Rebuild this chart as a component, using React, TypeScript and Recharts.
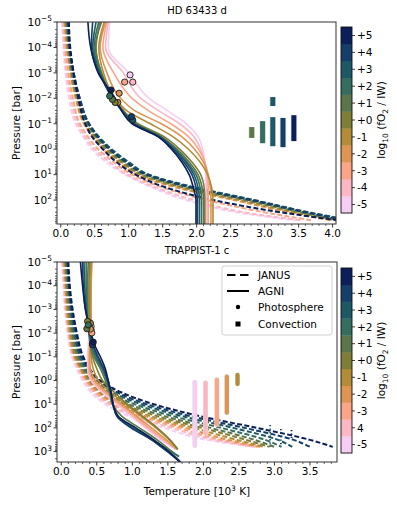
import React from 'react';
import { ComposedChart, Line, Scatter, XAxis, YAxis } from 'recharts';

const FONT = '"DejaVu Sans", Verdana, sans-serif';

// log10(fO2 / IW) categories, from -5 to +5
const FO2_COLORS = ['#f6cdf3', '#fbb8c4', '#f9a586', '#de9453', '#b28c36', '#807e36', '#5b774a', '#356d5f', '#1c5965', '#153f68', '#0b1f5b'];
const CBAR_LABELS_TOP = ['-5', '-4', '-3', '-2', '-1', '+0', '+1', '+2', '+3', '+4', '+5'];
const CBAR_LABELS_BOTTOM = ['-5', '4', '-3', '-2', '-1', '+0', '+1', '+2', '+3', '+4', '+5'];

// ---------------- HD 63433 d (top panel) ----------------
const TOP_DASH_P = [1e-5, 1e-4, 1e-3, 1e-2, 0.1, 0.32, 1, 3.2, 10, 32, 100, 320, 630];
const topDashM5 = [0.02, 0.04, 0.07, 0.12, 0.22, 0.33, 0.46, 0.67, 0.95, 1.35, 1.85, 2.65, 3.45];
const topDashM4 = [0.03, 0.05, 0.09, 0.15, 0.25, 0.36, 0.5, 0.72, 0.98, 1.4, 1.95, 2.75, 3.55];
const topDashM3 = [0.05, 0.07, 0.11, 0.18, 0.28, 0.4, 0.55, 0.78, 1.05, 1.5, 2.15, 3.05, 3.7];
const topDashM2 = [0.06, 0.09, 0.14, 0.22, 0.34, 0.47, 0.62, 0.85, 1.12, 1.7, 2.55, 3.4, 3.98];
const topDashM1 = [0.07, 0.1, 0.15, 0.23, 0.36, 0.49, 0.65, 0.88, 1.16, 1.76, 2.62, 3.48, 4.05];
const topDashZ0 = [0.08, 0.11, 0.16, 0.25, 0.38, 0.51, 0.68, 0.91, 1.2, 1.82, 2.7, 3.55, 4.1];
const topDashP1 = [0.09, 0.12, 0.17, 0.26, 0.4, 0.53, 0.71, 0.94, 1.24, 1.88, 2.76, 3.6, 4.15];
const topDashP2 = [0.1, 0.13, 0.18, 0.27, 0.41, 0.55, 0.73, 0.98, 1.28, 1.95, 2.82, 3.67, 4.25];
const topDashP3 = [0.11, 0.13, 0.19, 0.28, 0.42, 0.56, 0.75, 1.0, 1.3, 1.98, 2.85, 3.7, 4.3];
const topDashP4 = [0.11, 0.13, 0.19, 0.28, 0.41, 0.54, 0.72, 0.96, 1.26, 1.92, 2.8, 3.65, 4.2];
const topDashP5 = [0.12, 0.14, 0.19, 0.26, 0.36, 0.46, 0.62, 0.82, 1.1, 1.55, 2.25, 3.3, 4.1];

const TOP_SOLID_P = [1e-5, 1e-4, 1e-3, 1e-2, 0.032, 0.1, 0.32, 1, 3.2, 10, 32, 100, 870];
const topSolidM5 = [0.72, 0.7, 1.0, 1.3, 1.58, 1.85, 2.02, 2.09, 2.12, 2.13, 2.13, 2.13, 2.13];
const topSolidM4 = [0.7, 0.66, 0.92, 1.18, 1.45, 1.75, 1.96, 2.06, 2.12, 2.15, 2.15, 2.15, 2.15];
const topSolidM3 = [0.68, 0.62, 0.78, 1.05, 1.3, 1.62, 1.88, 2.03, 2.12, 2.16, 2.17, 2.17, 2.17];
const topSolidM2 = [0.66, 0.58, 0.68, 0.88, 1.1, 1.48, 1.78, 1.97, 2.1, 2.17, 2.2, 2.21, 2.21];
const topSolidM1 = [0.64, 0.56, 0.63, 0.8, 0.98, 1.32, 1.65, 1.88, 2.05, 2.16, 2.22, 2.24, 2.24];
const topSolidZ0 = [0.58, 0.52, 0.6, 0.78, 0.93, 1.14, 1.52, 1.75, 1.93, 2.06, 2.11, 2.12, 2.12];
const topSolidP1 = [0.6, 0.51, 0.6, 0.77, 0.92, 1.1, 1.48, 1.71, 1.89, 2.02, 2.08, 2.1, 2.1];
const topSolidP2 = [0.56, 0.49, 0.58, 0.76, 0.91, 1.09, 1.47, 1.69, 1.86, 1.99, 2.05, 2.07, 2.07];
const topSolidP3 = [0.52, 0.47, 0.57, 0.77, 0.91, 1.08, 1.45, 1.67, 1.84, 1.96, 2.02, 2.04, 2.04];
const topSolidP4 = [0.47, 0.45, 0.56, 0.78, 0.9, 1.06, 1.44, 1.65, 1.81, 1.93, 1.99, 2.01, 2.01];
const topSolidP5 = [0.4, 0.44, 0.55, 0.8, 0.9, 1.05, 1.43, 1.63, 1.78, 1.89, 1.95, 1.99, 1.99];

const PHOTO_TOP_T = [1.02, 1.06, 0.94, 0.86, 0.84, 0.8, 0.76, 0.72, 1.06, 1.04, 0.74];
const PHOTO_TOP_P = [0.0012, 0.0023, 0.0023, 0.0063, 0.0145, 0.0145, 0.011, 0.0081, 0.071, 0.052, 0.0047];
const PHOTO_TOP_IDX = [0, 1, 2, 3, 4, 5, 6, 7, 8, 9, 10];

const CONV_TOP_T = [2.81, 2.97, 3.12, 3.12, 3.27, 3.43];
const CONV_TOP_LO = [0.135, 0.079, 0.055, 0.0089, 0.059, 0.046];
const CONV_TOP_HI = [0.36, 0.58, 0.76, 0.02, 0.83, 0.48];
const CONV_TOP_IDX = [6, 7, 8, 8, 9, 10];

// ---------------- TRAPPIST-1 c (bottom panel) ----------------
const BOT_DASH_P = [1e-5, 1e-4, 1e-3, 1e-2, 0.1, 0.32, 1, 3.2, 10, 32, 100, 320, 630];
const botDashM5 = [0.01, 0.03, 0.05, 0.09, 0.15, 0.22, 0.3, 0.42, 0.62, 0.95, 1.45, 2.05, 2.7];
const botDashM4 = [0.02, 0.04, 0.06, 0.1, 0.17, 0.24, 0.33, 0.46, 0.67, 1.02, 1.55, 2.15, 2.72];
const botDashM3 = [0.03, 0.05, 0.07, 0.11, 0.18, 0.26, 0.35, 0.49, 0.72, 1.1, 1.65, 2.25, 2.76];
const botDashM2 = [0.04, 0.06, 0.08, 0.12, 0.19, 0.27, 0.37, 0.52, 0.77, 1.18, 1.75, 2.35, 2.8];
const botDashM1 = [0.05, 0.07, 0.09, 0.13, 0.2, 0.28, 0.39, 0.55, 0.82, 1.26, 1.86, 2.47, 2.86];
const botDashZ0 = [0.06, 0.08, 0.1, 0.15, 0.22, 0.3, 0.41, 0.59, 0.88, 1.35, 1.98, 2.6, 2.93];
const botDashP1 = [0.07, 0.09, 0.12, 0.16, 0.24, 0.32, 0.44, 0.63, 0.95, 1.45, 2.1, 2.72, 3.0];
const botDashP2 = [0.08, 0.1, 0.13, 0.18, 0.26, 0.34, 0.47, 0.68, 1.03, 1.57, 2.25, 2.87, 3.1];
const botDashP3 = [0.09, 0.11, 0.14, 0.19, 0.27, 0.36, 0.5, 0.73, 1.12, 1.7, 2.42, 3.05, 3.25];
const botDashP4 = [0.09, 0.11, 0.15, 0.21, 0.29, 0.38, 0.52, 0.79, 1.2, 1.82, 2.58, 3.27, 3.5];
const botDashP5 = [0.1, 0.12, 0.16, 0.22, 0.31, 0.4, 0.55, 0.85, 1.3, 1.95, 2.75, 3.5, 3.82];

const BOT_SOLID_P = [1e-5, 1e-4, 1e-3, 1e-2, 0.032, 0.1, 0.32, 1, 3.2, 10, 32, 100, 320, 800, 1600, 2750];
const botSolidM5 = [0.41, 0.4, 0.39, 0.39, 0.38, 0.37, 0.37, 0.42, 0.58, 0.78, 0.98, 1.18, 1.4, 1.6, null, null];
const botSolidM4 = [0.42, 0.41, 0.4, 0.4, 0.39, 0.38, 0.38, 0.43, 0.6, 0.8, 1.0, 1.2, 1.42, 1.62, null, null];
const botSolidM3 = [0.43, 0.42, 0.41, 0.41, 0.4, 0.39, 0.39, 0.45, 0.62, 0.82, 1.03, 1.23, 1.45, 1.63, null, null];
const botSolidM2 = [0.43, 0.42, 0.42, 0.42, 0.41, 0.4, 0.41, 0.48, 0.65, 0.85, 1.06, 1.27, 1.48, 1.63, null, null];
const botSolidM1 = [0.42, 0.41, 0.41, 0.41, 0.41, 0.42, 0.45, 0.52, 0.7, 0.9, 1.12, 1.33, 1.52, 1.64, null, null];
const botSolidZ0 = [0.4, 0.39, 0.39, 0.4, 0.41, 0.44, 0.5, 0.58, 0.75, 0.93, 1.14, 1.35, 1.53, 1.64, null, null];
const botSolidP1 = [0.38, 0.37, 0.37, 0.39, 0.41, 0.46, 0.55, 0.62, 0.68, 0.72, 0.85, 1.1, 1.35, 1.52, 1.65, null];
const botSolidP2 = [0.35, 0.35, 0.36, 0.39, 0.42, 0.48, 0.57, 0.64, 0.69, 0.72, 0.8, 1.02, 1.3, 1.48, 1.66, null];
const botSolidP3 = [0.32, 0.33, 0.35, 0.4, 0.44, 0.5, 0.59, 0.65, 0.7, 0.73, 0.79, 1.0, 1.28, 1.46, 1.6, 1.68];
const botSolidP4 = [0.3, 0.31, 0.34, 0.41, 0.45, 0.52, 0.6, 0.66, 0.7, 0.73, 0.78, 0.98, 1.27, 1.45, 1.58, 1.67];
const botSolidP5 = [0.27, 0.3, 0.34, 0.42, 0.47, 0.55, 0.62, 0.66, 0.7, 0.73, 0.8, 1.05, 1.3, 1.48, 1.58, 1.67];

const PHOTO_BOT_T = [0.42, 0.42, 0.43, 0.41, 0.41, 0.37, 0.36, 0.38, 0.44, 0.44, 0.45];
const PHOTO_BOT_P = [0.0052, 0.0072, 0.0098, 0.0068, 0.0038, 0.0032, 0.0066, 0.0045, 0.028, 0.031, 0.024];
const PHOTO_BOT_IDX = [0, 1, 2, 3, 4, 5, 6, 7, 8, 9, 10];

const CONV_BOT_T = [1.88, 2.03, 2.19, 2.33, 2.48];
const CONV_BOT_LO = [1.2, 1.25, 0.93, 0.69, 0.58];
const CONV_BOT_HI = [560, 174, 72, 23, 1.4];
const CONV_BOT_IDX = [0, 1, 2, 3, 4];

const DOT_BOT_T = [2.94, 3.09, 3.24];
const DOT_BOT_LO = [76, 112, 123];
const DOT_BOT_HI = [620, 490, 270];
const DOT_BOT_IDX = [8, 9, 10];

const TOP_DASH = [topDashM5, topDashM4, topDashM3, topDashM2, topDashM1, topDashZ0, topDashP1, topDashP2, topDashP3, topDashP4, topDashP5];
const TOP_SOLID = [topSolidM5, topSolidM4, topSolidM3, topSolidM2, topSolidM1, topSolidZ0, topSolidP1, topSolidP2, topSolidP3, topSolidP4, topSolidP5];
const BOT_DASH = [botDashM5, botDashM4, botDashM3, botDashM2, botDashM1, botDashZ0, botDashP1, botDashP2, botDashP3, botDashP4, botDashP5];
const BOT_SOLID = [botSolidM5, botSolidM4, botSolidM3, botSolidM2, botSolidM1, botSolidZ0, botSolidP1, botSolidP2, botSolidP3, botSolidP4, botSolidP5];

// axis ticks
const X_TICKS_TOP: number[] = [];
for (let i = 0; i <= 40; i++) X_TICKS_TOP.push(i / 10);
const X_TICKS_BOT: number[] = [];
for (let i = 0; i <= 38; i++) X_TICKS_BOT.push(i / 10);
const makeLogTicks = (maxV: number) => {
  const out: number[] = [];
  for (let d = -5; d <= 3; d++) {
    for (let k = 1; k <= 9; k++) {
      const v = k * Math.pow(10, d);
      if (v <= maxV) out.push(v);
    }
  }
  return out;
};
const Y_TICKS_TOP = makeLogTicks(870);
const Y_TICKS_BOT = makeLogTicks(2750);

const profile = (ps: number[], ts: (number | null)[]) =>
  ps.map((p, i) => ({ P: p, T: ts[i] })).filter((d) => d.T !== null);

const XTick = (props: any) => {
  const { x, y, payload } = props;
  const v = payload.value as number;
  const major = Math.abs(v * 2 - Math.round(v * 2)) < 1e-6;
  return (
    <g>
      <line x1={x} x2={x} y1={y} y2={y + (major ? 3.5 : 2)} stroke="#222" strokeWidth={major ? 0.9 : 0.7} />
      {major && (
        <text x={x} y={y + 12.5} textAnchor="middle" fontSize={10.5} fontFamily={FONT} fill="#000">
          {v.toFixed(1)}
        </text>
      )}
    </g>
  );
};

const YTick = (props: any) => {
  const { x, y, payload } = props;
  const v = payload.value as number;
  const lg = Math.log10(v);
  const e = Math.round(lg);
  const major = Math.abs(lg - e) < 1e-6;
  return (
    <g>
      <line x1={x} x2={x - (major ? 3.5 : 2)} y1={y} y2={y} stroke="#222" strokeWidth={major ? 0.9 : 0.7} />
      {major && (
        <text x={x - 5} y={y + 3.8} textAnchor="end" fontSize={10.5} fontFamily={FONT} fill="#000">
          10
          <tspan dy={-4.5} fontSize={7.5}>
            {e < 0 ? '\u2212' + String(-e) : String(e)}
          </tspan>
        </text>
      )}
    </g>
  );
};

type PanelProps = {
  top: number;
  height: number;
  marginTop: number;
  marginRight: number;
  xAxisHeight: number;
  xDomain: [number, number];
  yDomain: [number, number];
  xTicks: number[];
  yTicks: number[];
  dashP: number[];
  dash: (number | null)[][];
  solidP: number[];
  solid: (number | null)[][];
  convT: number[];
  convLo: number[];
  convHi: number[];
  convIdx: number[];
  convRound: boolean;
  dotT?: number[];
  dotLo?: number[];
  dotHi?: number[];
  dotIdx?: number[];
  photoT: number[];
  photoP: number[];
  photoIdx: number[];
};

function Panel(p: PanelProps) {
  return (
    <div style={{ position: 'absolute', left: 0, top: p.top }}>
      <ComposedChart width={397} height={p.height} margin={{ top: p.marginTop, right: p.marginRight, bottom: 0, left: 0 }}>
        <XAxis
          type="number"
          dataKey="T"
          domain={p.xDomain}
          allowDataOverflow
          ticks={p.xTicks}
          interval={0}
          tick={XTick}
          tickSize={0}
          tickMargin={0}
          tickLine={false}
          axisLine={false}
          height={p.xAxisHeight}
        />
        <YAxis
          type="number"
          dataKey="P"
          scale="log"
          domain={p.yDomain}
          allowDataOverflow
          reversed
          ticks={p.yTicks}
          interval={0}
          tick={YTick}
          tickSize={0}
          tickMargin={0}
          tickLine={false}
          axisLine={false}
          width={57}
        />
        {p.dash.map((ts, i) => (
          <Line
            key={'d' + i}
            data={profile(p.dashP, ts)}
            dataKey="P"
            type="monotoneY"
            stroke={FO2_COLORS[i]}
            strokeWidth={2}
            strokeDasharray="5 2.3"
            dot={false}
            activeDot={false}
            isAnimationActive={false}
          />
        ))}
        {p.solid.map((ts, i) => (
          <Line
            key={'s' + i}
            data={profile(p.solidP, ts)}
            dataKey="P"
            type="monotoneY"
            stroke={FO2_COLORS[i]}
            strokeWidth={1.6}
            dot={false}
            activeDot={false}
            isAnimationActive={false}
          />
        ))}
        {p.convT.map((t, i) => (
          <Line
            key={'cb' + i}
            data={[{ T: t, P: p.convLo[i] }, { T: t, P: p.convHi[i] }]}
            dataKey="P"
            type="linear"
            stroke="#dfe5e5"
            strokeWidth={p.convRound ? 5 : 6.5}
            strokeLinecap={p.convRound ? 'round' : 'butt'}
            dot={false}
            activeDot={false}
            isAnimationActive={false}
          />
        ))}
        {p.convT.map((t, i) => (
          <Line
            key={'c' + i}
            data={[{ T: t, P: p.convLo[i] }, { T: t, P: p.convHi[i] }]}
            dataKey="P"
            type="linear"
            stroke={FO2_COLORS[p.convIdx[i]]}
            strokeWidth={p.convRound ? 4.2 : 5}
            strokeLinecap={p.convRound ? 'round' : 'butt'}
            dot={false}
            activeDot={false}
            isAnimationActive={false}
          />
        ))}
        {(p.dotT || []).map((t, i) => (
          <Line
            key={'dt' + i}
            data={[{ T: t, P: (p.dotLo as number[])[i] }, { T: t, P: (p.dotHi as number[])[i] }]}
            dataKey="P"
            type="linear"
            stroke={FO2_COLORS[(p.dotIdx as number[])[i]]}
            strokeWidth={1.8}
            strokeDasharray="1.3 2.2"
            dot={false}
            activeDot={false}
            isAnimationActive={false}
          />
        ))}
        {p.photoT.map((t, i) => {
          const c = FO2_COLORS[p.photoIdx[i]];
          return (
            <Scatter
              key={'ph' + i}
              data={[{ T: t, P: p.photoP[i] }]}
              isAnimationActive={false}
              shape={(sp: any) => <circle cx={sp.cx} cy={sp.cy} r={3.1} fill={c} stroke="#1a1a1a" strokeWidth={0.9} />}
            />
          );
        })}
      </ComposedChart>
    </div>
  );
}

function Colorbar({ y0, y1, labels }: { y0: number; y1: number; labels: string[] }) {
  const x0 = 341;
  const w = 11;
  const n = FO2_COLORS.length;
  const h = (y1 - y0) / n;
  return (
    <g>
      {FO2_COLORS.map((c, i) => (
        <rect key={i} x={x0} y={y1 - (i + 1) * h} width={w} height={h + 0.3} fill={c} />
      ))}
      <rect x={x0} y={y0} width={w} height={y1 - y0} fill="none" stroke="#111" strokeWidth={0.9} />
      {labels.map((l, i) => {
        const yc = y1 - (i + 0.5) * h;
        return (
          <g key={'l' + i}>
            <line x1={x0 + w} x2={x0 + w + 3} y1={yc} y2={yc} stroke="#111" strokeWidth={0.8} />
            <text x={x0 + w + 5} y={yc + 3.8} fontSize={10.5} fontFamily={FONT} fill="#000">
              {l}
            </text>
          </g>
        );
      })}
      <text
        transform={`translate(385, ${(y0 + y1) / 2}) rotate(-90)`}
        textAnchor="middle"
        fontSize={10.5}
        fontFamily={FONT}
        fill="#000"
      >
        log
        <tspan dy={2.5} fontSize={7.5}>10</tspan>
        <tspan dy={-2.5}> (fO</tspan>
        <tspan dy={2.5} fontSize={7.5}>2</tspan>
        <tspan dy={-2.5}> / IW)</tspan>
      </text>
    </g>
  );
}

export default function App() {
  return (
    <div style={{ position: 'absolute', left: 0, top: 0, width: 397, height: 507, background: '#fff', overflow: 'hidden' }}>
      <Panel
        top={0}
        height={245}
        marginTop={22}
        marginRight={61}
        xAxisHeight={21}
        xDomain={[-0.055, 4.05]}
        yDomain={[1e-5, 870]}
        xTicks={X_TICKS_TOP}
        yTicks={Y_TICKS_TOP}
        dashP={TOP_DASH_P}
        dash={TOP_DASH}
        solidP={TOP_SOLID_P}
        solid={TOP_SOLID}
        convT={CONV_TOP_T}
        convLo={CONV_TOP_LO}
        convHi={CONV_TOP_HI}
        convIdx={CONV_TOP_IDX}
        convRound={false}
        photoT={PHOTO_TOP_T}
        photoP={PHOTO_TOP_P}
        photoIdx={PHOTO_TOP_IDX}
      />
      <Panel
        top={245}
        height={262}
        marginTop={17}
        marginRight={60}
        xAxisHeight={45}
        xDomain={[-0.06, 3.88]}
        yDomain={[1e-5, 2750]}
        xTicks={X_TICKS_BOT}
        yTicks={Y_TICKS_BOT}
        dashP={BOT_DASH_P}
        dash={BOT_DASH}
        solidP={BOT_SOLID_P}
        solid={BOT_SOLID}
        convT={CONV_BOT_T}
        convLo={CONV_BOT_LO}
        convHi={CONV_BOT_HI}
        convIdx={CONV_BOT_IDX}
        convRound={true}
        dotT={DOT_BOT_T}
        dotLo={DOT_BOT_LO}
        dotHi={DOT_BOT_HI}
        dotIdx={DOT_BOT_IDX}
        photoT={PHOTO_BOT_T}
        photoP={PHOTO_BOT_P}
        photoIdx={PHOTO_BOT_IDX}
      />
      <svg width={397} height={507} style={{ position: 'absolute', left: 0, top: 0, pointerEvents: 'none' }}>
        {/* frames */}
        <rect x={57} y={22} width={279} height={202} fill="none" stroke="#333" strokeWidth={1} />
        <rect x={57} y={262} width={280} height={200} fill="none" stroke="#333" strokeWidth={1} />
        {/* titles */}
        <text x={197} y={14} textAnchor="middle" fontSize={10} fontFamily={FONT} fill="#000">HD 63433 d</text>
        <text x={197} y={254} textAnchor="middle" fontSize={10} fontFamily={FONT} fill="#000">TRAPPIST-1 c</text>
        {/* axis labels */}
        <text transform="translate(20, 123) rotate(-90)" textAnchor="middle" fontSize={10.5} fontFamily={FONT} fill="#000">Pressure [bar]</text>
        <text transform="translate(20, 362) rotate(-90)" textAnchor="middle" fontSize={10.5} fontFamily={FONT} fill="#000">Pressure [bar]</text>
        <text x={197} y={495} textAnchor="middle" fontSize={10.5} fontFamily={FONT} fill="#000">
          Temperature [10<tspan dy={-4} fontSize={7.5}>3</tspan><tspan dy={4}> K]</tspan>
        </text>
        {/* colorbars */}
        <Colorbar y0={27} y1={213} labels={CBAR_LABELS_TOP} />
        <Colorbar y0={268} y1={453} labels={CBAR_LABELS_BOTTOM} />
        {/* legend */}
        <rect x={222} y={266} width={110} height={69} rx={2.5} fill="#fff" fillOpacity={0.85} stroke="#ccc" strokeWidth={0.9} />
        <line x1={227} x2={249} y1={275} y2={275} stroke="#000" strokeWidth={2} strokeDasharray="8.5 4.5" />
        <text x={258} y={279} fontSize={10.5} fontFamily={FONT} fill="#000">JANUS</text>
        <line x1={227} x2={249} y1={291} y2={291} stroke="#000" strokeWidth={2} />
        <text x={258} y={295} fontSize={10.5} fontFamily={FONT} fill="#000">AGNI</text>
        <circle cx={238} cy={307} r={2.2} fill="#000" />
        <text x={258} y={311} fontSize={10.5} fontFamily={FONT} fill="#000">Photosphere</text>
        <rect x={235.5} y={321.5} width={5} height={5} fill="#000" />
        <text x={258} y={328} fontSize={10.5} fontFamily={FONT} fill="#000">Convection</text>
      </svg>
    </div>
  );
}
